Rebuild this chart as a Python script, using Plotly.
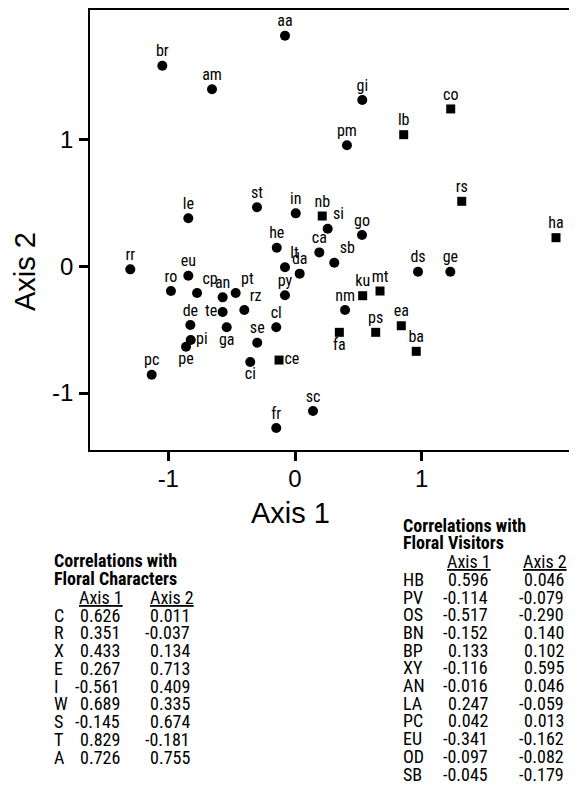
import plotly.graph_objects as go

# ---------------- data ----------------
names = ["aa", "br", "am", "gi", "pm", "le", "st", "in", "si", "go", "he", "ca", "sb",
         "lt", "da", "rr", "eu", "ro", "cp", "an", "pt", "py", "te", "rz", "de", "ga",
         "cl", "pi", "pe", "se", "ci", "pc", "fr", "sc", "ds", "ge", "nm"]
axis1 = [-0.079, -1.047, -0.655, 0.531, 0.410, -0.842, -0.300, 0.006, 0.258, 0.529, -0.144, 0.192, 0.310,
         -0.079, 0.037, -1.300, -0.842, -0.979, -0.773, -0.571, -0.468, -0.079, -0.571, -0.400, -0.826, -0.539,
         -0.148, -0.823, -0.860, -0.298, -0.353, -1.131, -0.148, 0.142, 0.971, 1.226, 0.395]
axis2 = [1.820, 1.583, 1.397, 1.313, 0.955, 0.379, 0.466, 0.418, 0.297, 0.247, 0.147, 0.110, 0.028,
         -0.008, -0.058, -0.024, -0.074, -0.195, -0.211, -0.245, -0.211, -0.229, -0.361, -0.345, -0.463, -0.481,
         -0.481, -0.582, -0.635, -0.603, -0.755, -0.856, -1.276, -1.142, -0.043, -0.043, -0.345]

sq_names = ["nb", "co", "lb", "rs", "ha", "ce", "ku", "mt", "fa", "ps", "ea", "ba"]
sq_axis1 = [0.215, 1.229, 0.858, 1.316, 2.060, -0.126, 0.534, 0.671, 0.350, 0.637, 0.839, 0.957]
sq_axis2 = [0.397, 1.242, 1.039, 0.513, 0.226, -0.740, -0.232, -0.195, -0.521, -0.521, -0.469, -0.671]

x_ticks = [-1, 0, 1]
y_ticks = [-1, 0, 1]

char_names = ["C", "R", "X", "E", "I", "W", "S", "T", "A"]
char_ax1 = [0.626, 0.351, 0.433, 0.267, -0.561, 0.689, -0.145, 0.829, 0.726]
char_ax2 = [0.011, -0.037, 0.134, 0.713, 0.409, 0.335, 0.674, -0.181, 0.755]

vis_names = ["HB", "PV", "OS", "BN", "BP", "XY", "AN", "LA", "PC", "EU", "OD", "SB"]
vis_ax1 = [0.596, -0.114, -0.517, -0.152, 0.133, -0.116, -0.016, 0.247, 0.042, -0.341, -0.097, -0.045]
vis_ax2 = [0.046, -0.079, -0.290, 0.140, 0.102, 0.595, 0.046, -0.059, 0.013, -0.162, -0.082, -0.179]

# label placement
special_pos = {"si": "top right", "sb": "top right", "lt": "top right", "cp": "top right",
               "pt": "top right", "rz": "top right", "te": "middle left", "pi": "middle right",
               "ce": "middle right", "ga": "bottom center", "pe": "bottom center",
               "ci": "bottom center", "fa": "bottom center"}

# ---------------- layout geometry ----------------
OFF = 8                     # default page body margin
W, H = 577 - OFF, 787 - OFF
ML, MT = 90 - OFF, 10 - OFF
MR = 0
MB = H - (450 - OFF)
PW, PH = W - ML - MR, H - MT - MB

NARROW = "Liberation Sans Narrow, Arial Narrow, Roboto Condensed, DejaVu Sans Condensed, sans-serif"
ARIAL = "Liberation Sans, Arial, sans-serif"


def px2paper(px, py):
    # px, py are page pixels of the reference picture
    fx, fy = px - OFF, py - OFF
    return (fx - ML) / PW, (H - MB - fy) / PH


fig = go.Figure()
fig.add_trace(go.Scatter(
    x=axis1, y=axis2, mode="markers",
    marker=dict(symbol="circle", size=10, color="black"),
    cliponaxis=False, showlegend=False, hoverinfo="skip"))
fig.add_trace(go.Scatter(
    x=sq_axis1, y=sq_axis2, mode="markers",
    marker=dict(symbol="square", size=9, color="black"),
    cliponaxis=False, showlegend=False, hoverinfo="skip"))
all_names = names + sq_names
fig.add_trace(go.Scatter(
    x=axis1 + sq_axis1, y=axis2 + sq_axis2, mode="markers+text", text=all_names,
    textposition=[special_pos.get(n, "top center") for n in all_names],
    marker=dict(size=7, color="rgba(0,0,0,0)"),
    textfont=dict(family=NARROW, size=16, color="black"),
    cliponaxis=False, showlegend=False, hoverinfo="skip"))

ann = []
# axis titles
ax, ay = px2paper(290, 513)
ann.append(dict(x=ax, y=ay, xref="paper", yref="paper", text="Axis 1", showarrow=False,
                font=dict(family=ARIAL, size=29, color="black"), xanchor="center", yanchor="middle"))
ax, ay = px2paper(25, 272)
ann.append(dict(x=ax, y=ay, xref="paper", yref="paper", text="Axis 2", showarrow=False, textangle=-90,
                font=dict(family=ARIAL, size=29, color="black"), xanchor="center", yanchor="middle"))


def table(title1, title2, rows, c1, c2, x_lab, x_c1, x_c2, h1, h2, y_t1, y_t2, y_h, y0, dy):
    out = []
    for t, yy in ((title1, y_t1), (title2, y_t2)):
        px, py = px2paper(x_lab, yy)
        out.append(dict(x=px, y=py, text="<b>" + t + "</b>", xanchor="left"))
    for t, xx in (("Axis 1", h1), ("Axis 2", h2)):
        px, py = px2paper(xx, y_h)
        out.append(dict(x=px, y=py, text="<u>" + t + "</u>", xanchor="center"))
    for i, (n, a, b) in enumerate(zip(rows, c1, c2)):
        yy = y0 + i * dy
        px, py = px2paper(x_lab, yy)
        out.append(dict(x=px, y=py, text=n, xanchor="left"))
        px, py = px2paper(x_c1, yy)
        out.append(dict(x=px, y=py, text=f"{a:.3f}", xanchor="right"))
        px, py = px2paper(x_c2, yy)
        out.append(dict(x=px, y=py, text=f"{b:.3f}", xanchor="right"))
    for o in out:
        o.update(xref="paper", yref="paper", showarrow=False, yanchor="middle",
                 font=dict(family=NARROW, size=18, color="black"))
    return out


ann += table("Correlations with", "Floral Characters", char_names, char_ax1, char_ax2,
             51.5, 122, 192, 101, 172, 560, 578.3, 597.3, 615, 17.75)
ann += table("Correlations with", "Floral Visitors", vis_names, vis_ax1, vis_ax2,
             401, 489.5, 566, 468.7, 545, 525, 542.3, 561.7, 579.3, 17.7)

xr0 = -1.618
xr1 = xr0 + PW / 126.7
yr1 = 2.023
yr0 = yr1 - PH / 126.7

fig.update_layout(
    width=W, height=H, margin=dict(l=ML, r=MR, t=MT, b=MB),
    paper_bgcolor="white", plot_bgcolor="white",
    annotations=ann,
    xaxis=dict(range=[xr0, xr1], tickvals=x_ticks, ticktext=[str(v) for v in x_ticks],
               showgrid=False, zeroline=False, showline=True, mirror=True, linecolor="black", linewidth=1.5,
               ticks="outside", ticklen=9, tickwidth=3, tickcolor="black", ticklabelstandoff=-3,
               tickfont=dict(family=ARIAL, size=24, color="black")),
    yaxis=dict(range=[yr0, yr1], tickvals=y_ticks, ticktext=[str(v) for v in y_ticks],
               showgrid=False, zeroline=False, showline=True, mirror=False, linecolor="black", linewidth=1.5,
               ticks="outside", ticklen=9, tickwidth=3, tickcolor="black", ticklabelstandoff=1,
               tickfont=dict(family=ARIAL, size=24, color="black")),
)

fig.write_html("out.html")
